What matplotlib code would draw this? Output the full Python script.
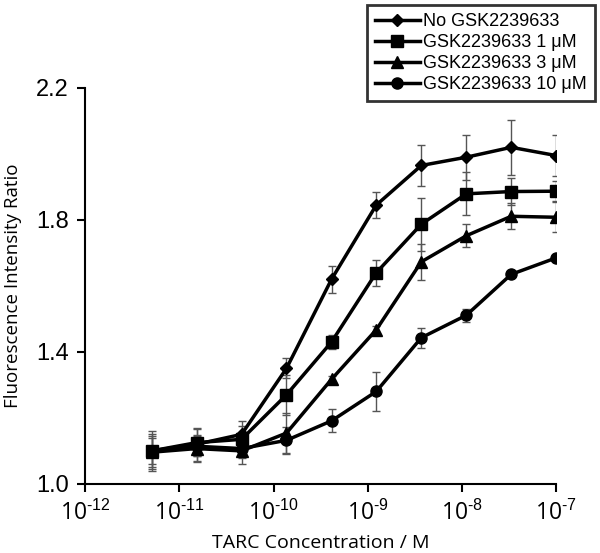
import matplotlib
matplotlib.use("Agg")
import math
import matplotlib.pyplot as plt
from matplotlib.ticker import FuncFormatter, NullLocator

plt.rcParams['font.family'] = ['Open Sans', 'DejaVu Sans']
plt.rcParams['mathtext.fontset'] = 'custom'
plt.rcParams['mathtext.rm'] = 'Liberation Sans'
plt.rcParams['mathtext.it'] = 'Liberation Sans'
plt.rcParams['mathtext.bf'] = 'Liberation Sans'

# TARC concentrations (M), 3-fold dilutions
conc = [5.08e-12, 1.52e-11, 4.57e-11, 1.37e-10, 4.12e-10,
        1.23e-9, 3.7e-9, 1.11e-8, 3.33e-8, 1e-7]

labels = ['No GSK2239633', 'GSK2239633 1 \u03bcM',
          'GSK2239633 3 \u03bcM', 'GSK2239633 10 \u03bcM']
markers = ['D', 's', '^', 'o']
msizes = [6.5, 9, 8, 8]

no_gsk = [1.10, 1.12, 1.15, 1.35, 1.62, 1.845, 1.965, 1.99, 2.02, 1.995]
no_gsk_err = [0.05, 0.05, 0.04, 0.03, 0.04, 0.04, 0.063, 0.068, 0.084, 0.063]

gsk_1 = [1.10, 1.125, 1.135, 1.27, 1.43, 1.64, 1.787, 1.879, 1.886, 1.887]
gsk_1_err = [0.04, 0.04, 0.04, 0.06, 0.02, 0.04, 0.08, 0.065, 0.04, 0.03]

gsk_3 = [1.096, 1.107, 1.10, 1.154, 1.317, 1.467, 1.673, 1.752, 1.811, 1.808]
gsk_3_err = [0.05, 0.04, 0.04, 0.06, 0.01, 0.01, 0.055, 0.035, 0.04, 0.045]

gsk_10 = [1.10, 1.114, 1.107, 1.132, 1.191, 1.28, 1.443, 1.511, 1.635, 1.685]
gsk_10_err = [0.06, 0.03, 0.03, 0.04, 0.035, 0.06, 0.03, 0.02, 0.005, 0.005]

series = [no_gsk, gsk_1, gsk_3, gsk_10]
errors = [no_gsk_err, gsk_1_err, gsk_3_err, gsk_10_err]

fig = plt.figure(figsize=(6, 5.53), dpi=100)
ax = fig.add_axes([0.142, 0.125, 0.785, 0.716])

handles = []
for y, e, m, ms, lab in zip(series, errors, markers, msizes, labels):
    ax.errorbar(conc, y, yerr=e, fmt='none', ecolor='#555555',
                elinewidth=1, capsize=3, capthick=1, zorder=2)
    h, = ax.plot(conc, y, color='black', lw=2.5, marker=m, ms=ms,
                 mfc='black', mec='black', label=lab, zorder=3)
    handles.append(h)


def pow_label(v, pos):
    p = int(round(math.log10(v)))
    return r'$\mathregular{10^{\text{%d}}}$' % p


ax.set_xscale('log')
ax.set_xlim(1e-12, 1e-7)
ax.set_ylim(1.0, 2.2)
ax.set_xticks([1e-12, 1e-11, 1e-10, 1e-9, 1e-8, 1e-7])
ax.xaxis.set_major_formatter(FuncFormatter(pow_label))
ax.xaxis.set_minor_locator(NullLocator())
ax.set_yticks([1.0, 1.4, 1.8, 2.2])
ax.set_yticklabels(['1.0', '1.4', '1.8', '2.2'], family='Liberation Sans')

for s in ['top', 'right']:
    ax.spines[s].set_visible(False)
for s in ['left', 'bottom']:
    ax.spines[s].set_linewidth(1.5)
ax.tick_params(axis='both', direction='out', length=6, width=1.5, pad=6)
ax.tick_params(axis='x', labelsize=16.5)
ax.tick_params(axis='y', labelsize=17)

ax.set_xlabel('TARC Concentration / M', fontsize=14, labelpad=6)
ax.set_ylabel('Fluorescence Intensity Ratio', fontsize=13.5, labelpad=10)

leg = fig.legend(handles=handles, loc='upper right',
                 bbox_to_anchor=(0.997, 0.997), frameon=True,
                 fancybox=False, edgecolor='black',
                 prop={'family': 'Liberation Sans', 'size': 13},
                 handlelength=2.5, handletextpad=0.15, labelspacing=0.22,
                 borderpad=0.45, borderaxespad=0.2)
leg.get_frame().set_linewidth(2)

fig.savefig('out.png', dpi=100)
